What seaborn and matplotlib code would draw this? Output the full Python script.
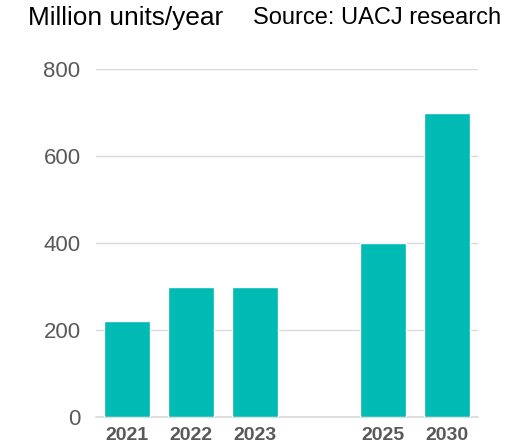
import matplotlib
matplotlib.use("Agg")
import matplotlib.pyplot as plt
import seaborn as sns
import pandas as pd

years = ["2021", "2022", "2023", "2025", "2030"]
values = [220, 300, 300, 400, 700]
# blank slot keeps the gap between 2023 and 2025
slot_order = ["2021", "2022", "2023", "", "2025", "2030"]
y_ticks = [0, 200, 400, 600, 800]

sns.set_theme(style="white")
plt.rcParams["font.family"] = ["Liberation Sans", "DejaVu Sans"]

df = pd.DataFrame({"year": years, "units": values})

fig = plt.figure(figsize=(5.10, 4.45), dpi=100)
ax = fig.add_axes([0.188, 0.0629, 0.749, 0.782])

sns.barplot(data=df, x="year", y="units", order=slot_order, color="#00BBB4",
            saturation=1, width=0.72, ax=ax, zorder=3)

ax.set_ylim(0, 800)
ax.set_xlim(-0.49, 5.49)
ax.set_yticks(y_ticks)
ax.yaxis.grid(True, color="#D9D9D9", linewidth=1.0, zorder=0)
ax.set_axisbelow(True)
for side in ["left", "right", "top"]:
    ax.spines[side].set_visible(False)
ax.spines["bottom"].set_color("#D9D9D9")
ax.spines["bottom"].set_linewidth(1.2)
ax.set_xlabel("")
ax.set_ylabel("")
ax.tick_params(axis="both", length=0)
ax.tick_params(axis="y", labelsize=16, labelcolor="#595959", pad=11)
ax.tick_params(axis="x", labelsize=14, labelcolor="#595959", pad=7)
for lbl in ax.get_xticklabels():
    lbl.set_fontweight("bold")

fig.text(28 / 510, 1 - 18 / 445, "Million units/year", fontsize=18.9,
         color="#000000", va="center", ha="left")
fig.text(253 / 510, 1 - 18 / 445, "Source: UACJ research", fontsize=17,
         color="#000000", va="center", ha="left")

fig.savefig("out.png", dpi=100)
